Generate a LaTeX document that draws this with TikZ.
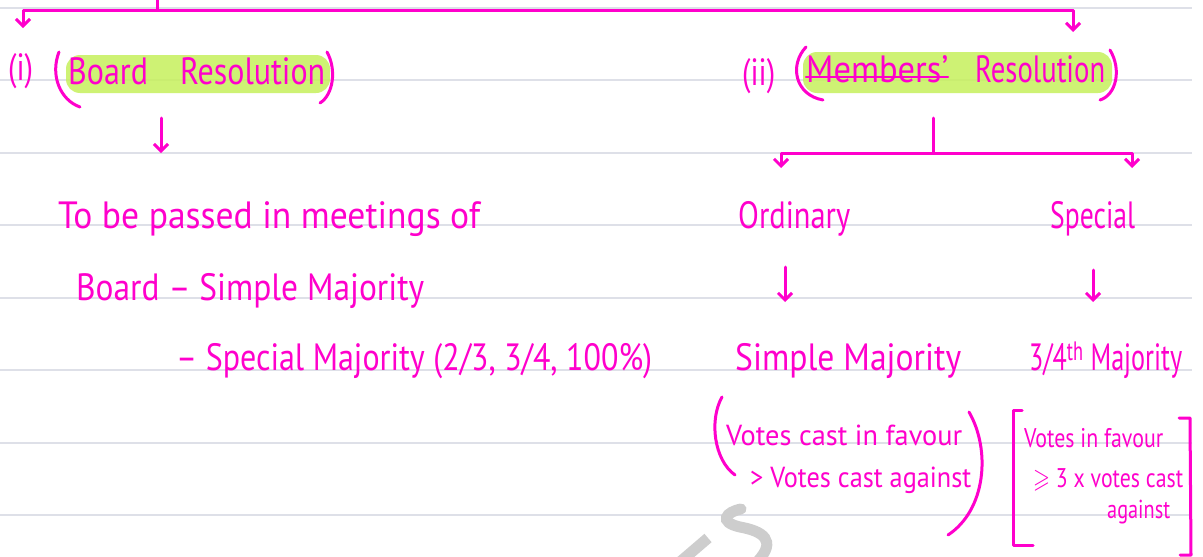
\documentclass[tikz,border=0pt]{standalone}
\usepackage{fontspec}
\setmainfont{PT Sans}
\usepackage{amssymb}
\usepackage{graphicx}
\usetikzlibrary{arrows.meta}
\definecolor{pen}{RGB}{255,0,204}
\definecolor{hilite}{RGB}{198,240,92}
\definecolor{ruled}{RGB}{222,224,232}
\definecolor{stamp}{RGB}{205,205,205}
% squeeze a line of text to a given width (in pt), keeping its height
\newcommand{\handw}[2]{\resizebox{#1pt}{\height}{#2}}

\begin{document}
\begin{tikzpicture}[x=1pt,y=-1pt,>={Straight Barb[length=7pt,width=14pt]},
  penline/.style={pen,line width=3pt,line cap=round,line join=round},
  hand/.style={text=pen,inner sep=0pt,anchor=base west,font=\fontsize{38}{40}\selectfont},
  note/.style={hand,font=\fontsize{29}{31}\selectfont}]
  \useasboundingbox (0,0) rectangle (1203,557);
  \fill[white] (0,0) rectangle (1203,557);
  % ruled paper
  \foreach \y in {8,80,153,225,298,370,443,515}
    \draw[ruled,line width=1.4pt] (0,\y) -- (1192,\y);
  % faint stamp in the corner of the page
  \draw[stamp,line width=11pt,line cap=round] (741,509) .. controls (726,512) and (718,522) .. (740,527)
    .. controls (762,531) and (778,540) .. (757,562);
  \draw[stamp,line width=11pt] (680,562) -- (708,538);

  % highlighter
  \fill[hilite,rounded corners=14pt,opacity=.85] (66,55) rectangle (330,93);
  \fill[hilite,rounded corners=14pt,opacity=.85] (803,52) rectangle (1112,93);

  % headings
  \node[hand] (one) at (8,80) {\handw{25}{(i)}};
  \node[hand] (board) at (68,84) {\handw{257}{Board\quad Resolution}};
  \node[hand] (two) at (742,85) {\handw{33}{(ii)}};
  \node[hand] (memb) at (806,82) {\handw{142}{Members'}};
  \node[hand] (memres) at (975,82) {\handw{130}{Resolution}};
  \draw[penline,line width=2.2pt] (806,77) -- (948,77);
  \draw[penline] (59,52) .. controls (50,75) and (60,100) .. (80,107);
  \draw[penline] (327,52) .. controls (337,70) and (333,95) .. (320,103);
  \draw[penline] (806,47) .. controls (789,65) and (795,95) .. (823,100);
  \draw[penline] (1110,50) .. controls (1122,70) and (1116,95) .. (1100,100);

  % board side
  \node[hand] (passed) at (58,228) {\handw{422}{To be passed in meetings of}};
  \node[hand] (bsimple) at (76,300) {\handw{348}{Board -- Simple Majority}};
  \node[hand] (bspecial) at (176,370) {\handw{476}{-- Special Majority (2/3, 3/4, 100\%)}};

  % members side
  \node[hand] (ordinary) at (738,228) {\handw{112}{Ordinary}};
  \node[hand] (special) at (1050,228) {\handw{85}{Special}};
  \node[hand] (simplemaj) at (735,370) {\handw{226}{Simple Majority}};
  \node[hand] (threefourth) at (1029,370) {\handw{153}{3/4\textsuperscript{th} Majority}};

  \node[note] (ordfirst) at (726,445) {\handw{236}{Votes cast in favour}};
  \node[note] (ordsecond) at (750,487) {\handw{221}{> Votes cast against}};
  \draw[penline] (722,397) .. controls (709,420) and (714,460) .. (735,475);
  \draw[penline] (969,412) .. controls (991,450) and (986,510) .. (948,535);

  \node[note,font=\fontsize{27}{29}\selectfont] (specfirst) at (1024,447) {\handw{139}{Votes in favour}};
  \node[note,font=\fontsize{27}{29}\selectfont] (specsecond) at (1033,487) {\handw{150}{$\geqslant$ 3 x votes cast}};
  \node[note,font=\fontsize{26}{28}\selectfont] (specthird) at (1107,518) {\handw{63}{against}};
  \draw[penline] (1022,410) -- (1013,410) -- (1013,545) -- (1033,545);
  \draw[penline] (1179,418) -- (1190,418) -- (1191,555) -- (1180,555);

  % connectors
  \coordinate (topstem) at (157,-2);
  \coordinate (topbar) at (157,10);
  \coordinate (armone) at (23,28);
  \coordinate (armtwo) at (1073,32);
  \draw[penline] (topstem) -- (topbar);
  \draw[penline,->] (topbar) -| (armone);
  \draw[penline,->] (topbar) -| (armtwo);

  \coordinate (boardtop) at (161,118);
  \coordinate (boardend) at (161,153);
  \draw[penline,->] (boardtop) -- (boardend);

  \coordinate (memstem) at (933,118);
  \coordinate (membar) at (933,153);
  \coordinate (toord) at (781,168);
  \coordinate (tospec) at (1132,168);
  \draw[penline] (memstem) -- (membar);
  \draw[penline,->] (membar) -| (toord);
  \draw[penline,->] (membar) -| (tospec);

  \coordinate (ordend) at (785,302);
  \coordinate (specend) at (1093,302);
  \draw[penline,->] (785,267) -- (ordend);
  \draw[penline,->] (1093,270) -- (specend);
\end{tikzpicture}
\end{document}
